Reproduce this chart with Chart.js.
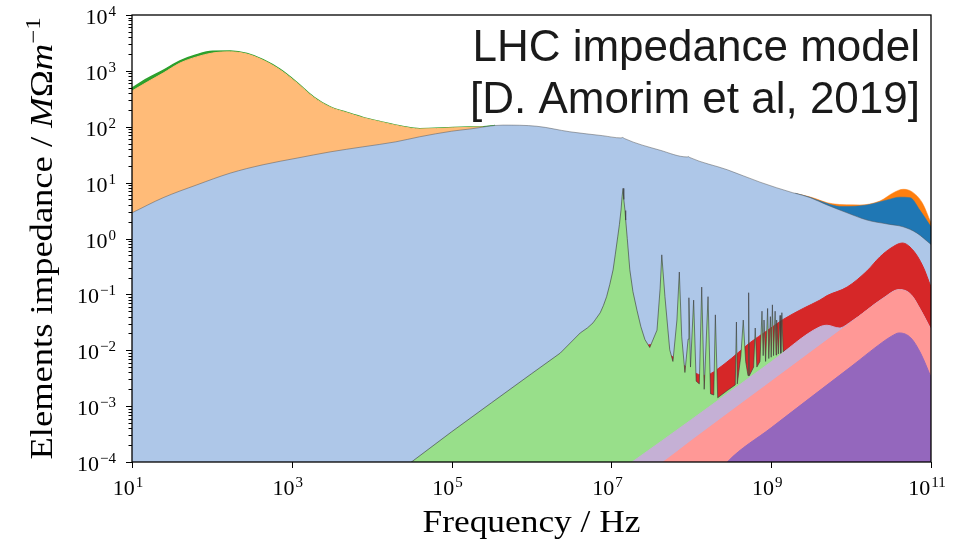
<!DOCTYPE html>
<html>
<head>
<meta charset="utf-8">
<script src="https://cdn.jsdelivr.net/npm/chart.js@4/dist/chart.umd.min.js"></script>
<style>
  html, body { margin: 0; padding: 0; background: #fff; }
  #wrap { width: 961px; height: 544px; }
</style>
</head>
<body>
<div id="wrap"><canvas id="chart" width="961" height="544"></canvas></div>
<script>
// stacked levels: [frequency in Hz, cumulative impedance in MOhm/m]
const purpleTop = [[2.5e8, 8e-5], [2.82e8, 1e-4], [1e9, 4.1e-4], [3.16e9, 1.45e-3], [1e10, 5.1e-3],
  [2.5e10, 1.41e-2], [3.2e10, 1.78e-2], [4e10, 2.04e-2], [5.6e10, 1.66e-2], [7.4e10, 8.9e-3], [1e11, 3.3e-3]];
const pinkTop = [[4e7, 9e-5], [4.47e7, 1e-4], [1e8, 2.4e-4], [1e9, 2.75e-3], [1e10, 3.16e-2],
  [2.5e10, 8.3e-2], [4e10, 0.12], [5.6e10, 0.098], [7.4e10, 0.052], [1e11, 0.023]];
const lavenderTop = [[1.6e7, 8.8e-5], [1.82e7, 1e-4], [1e8, 5.7e-4], [1e9, 6.2e-3], [4e9, 2.6e-2],
  [5e9, 2.8e-2], [7.1e9, 2.5e-2], [1e10, 3.25e-2], [2.5e10, 8.5e-2], [4e10, 0.122], [5.6e10, 0.1],
  [7.4e10, 0.053], [1e11, 0.0235]];
const resonanceTop = [[2.82e4, 8.9e-5], [1e5, 3.47e-4], [3.16e5, 1.15e-3], [1e6, 3.8e-3], [2.29e6, 8.9e-3],
  [4.07e6, 2.04e-2], [5.01e6, 2.51e-2], [5.89e6, 3.09e-2], [6.31e6, 3.55e-2], [7.24e6, 4.68e-2],
  [7.94e6, 6.3e-2], [8.71e6, 9.1e-2], [9.55e6, 0.151], [1.05e7, 0.275], [1.12e7, 0.525], [1.2e7, 1.07],
  [1.26e7, 1.78], [1.32e7, 3.24], [1.36e7, 5.6], [1.4e7, 7.9], [1.43e7, 5.0], [1.48e7, 3.16],
  [1.51e7, 2.14], [1.58e7, 1.0], [1.7e7, 0.275], [1.86e7, 0.112], [2.09e7, 5.2e-2], [2.34e7, 2.63e-2],
  [2.63e7, 1.55e-2], [3.02e7, 1.12e-2], [3.72e7, 2.29e-2], [4.07e7, 0.126], [4.27e7, 0.51],
  [4.68e7, 9.1e-2], [5.37e7, 1.02e-2], [5.89e7, 6.3e-3], [6.61e7, 3.47e-2], [7.08e7, 0.251],
  [7.59e7, 1.74e-2], [8.32e7, 4e-3], [9.12e7, 1.58e-2], [9.33e7, 8.7e-2], [9.77e7, 5e-3],
  [1.07e8, 7.9e-2], [1.15e8, 2.8e-3], [1.26e8, 2.5e-3], [1.35e8, 0.135], [1.45e8, 2e-3],
  [1.62e8, 9.1e-2], [1.74e8, 1.66e-3], [1.91e8, 1.58e-3], [2e8, 4.3e-2], [2.14e8, 1.41e-3],
  [2.82e8, 1.9e-3], [3.55e8, 2.4e-3], [3.67e8, 3.2e-2], [3.76e8, 2.5e-3], [4.17e8, 7.9e-3],
  [4.47e8, 3.47e-2], [4.79e8, 6.3e-3], [5.13e8, 3.5e-3], [5.22e8, 0.107], [5.32e8, 3.5e-3],
  [6.03e8, 5e-3], [6.31e8, 2.5e-2], [6.61e8, 5e-3], [7.24e8, 6.3e-3], [7.67e8, 5e-2], [7.94e8, 8e-3],
  [8.13e8, 3.47e-2], [8.51e8, 6.3e-3], [9.02e8, 5.6e-2], [9.33e8, 7.1e-3], [9.77e8, 4e-2],
  [1e9, 7.5e-3], [1.035e9, 6.5e-2], [1.07e9, 8e-3], [1.12e9, 5e-2], [1.15e9, 8.2e-3],
  [1.17e9, 3.47e-2], [1.23e9, 8.6e-3], [1.29e9, 4.2e-2], [1.32e9, 8.8e-3], [1.36e9, 4.7e-2],
  [1.41e9, 9.3e-3], [1.58e9, 1.05e-2]];
const redTop = [[2e7, 4e-3], [3.02e7, 1.26e-2], [4.17e7, 1e-2], [5.89e7, 7.6e-3], [8.32e7, 5.2e-3],
  [1.17e8, 3.8e-3], [1.45e8, 3.55e-3], [1.74e8, 3.8e-3], [2.09e8, 4.5e-3], [3.16e8, 7.1e-3],
  [5.37e8, 1.35e-2], [8.91e8, 2.24e-2], [1.41e9, 3.55e-2], [2.51e9, 5.6e-2], [4.07e9, 7.9e-2],
  [5.01e9, 9.5e-2], [8.91e9, 0.135], [1.58e10, 0.263], [2.29e10, 0.468], [3.16e10, 0.676],
  [4.37e10, 0.83], [5.89e10, 0.63], [7.94e10, 0.316], [1e11, 0.135]];
const lightBlueTop = [[1e1, 2.88], [24.5, 5.37], [64.6, 9.1], [170, 14.8], [437, 20.9], [1.17e3, 27.5],
  [3.02e3, 35.5], [7.76e3, 43.7], [2e4, 53.7], [3.98e4, 66.1], [1e5, 83.2], [1.7e5, 91.2],
  [4.37e5, 107], [1.17e6, 102], [3.02e6, 81.3], [7.76e6, 69.2], [1.32e7, 63.1], [1.38e7, 64.3],
  [1.45e7, 61.7], [4.07e7, 38], [8.91e7, 28.8], [9.12e7, 29.3], [9.55e7, 28.2], [2.82e8, 17],
  [7.24e8, 10.2], [1.86e9, 6.6], [2e9, 6.43], [3.09e9, 5.37], [5.01e9, 3.98], [8.91e9, 2.88],
  [1.58e10, 2.14], [2.82e10, 1.82], [4.47e10, 1.62], [6.61e10, 1.26], [1e11, 0.78]];
const blueTop = [[2e9, 6.43], [3.09e9, 5.43], [3.72e9, 4.9], [7.94e9, 3.72], [1.58e10, 3.98],
  [2.82e10, 4.9], [4.07e10, 5.5], [5.5e10, 5.37], [7.24e10, 3.24], [1e11, 1.62]];
const orangeTop = [[2e9, 6.43], [3.09e9, 5.52], [5.89e9, 4.17], [1.29e10, 3.98], [2.29e10, 4.68],
  [3.39e10, 6.6], [4.47e10, 7.6], [5.75e10, 6.9], [7.76e10, 4.37], [1e11, 1.9]];
const lightOrangeTop = [[1e1, 437], [15.5, 631], [24.5, 912], [39.8, 1380], [64.6, 1780], [102, 2090],
  [170, 2190], [275, 2000], [437, 1550], [708, 1050], [1.17e3, 603], [1.86e3, 339], [3.02e3, 224],
  [4.9e3, 178], [7.76e3, 145], [1.26e4, 123], [2.45e4, 100], [3.98e4, 91.2], [1.05e5, 95.5],
  [1.7e5, 97.7], [2.5e5, 99]];
const greenTop = [[1e1, 490], [15.5, 724], [24.5, 1020], [39.8, 1510], [64.6, 1950], [102, 2240],
  [170, 2260], [275, 2040], [437, 1580], [708, 1070], [1.17e3, 612], [1.86e3, 344], [3.02e3, 227],
  [4.9e3, 180], [7.76e3, 147], [1.26e4, 124.5], [2.45e4, 101.5], [3.98e4, 92.5], [1.05e5, 97],
  [1.7e5, 99], [2.5e5, 100.5], [3.5e5, 105]];

// tick labels (powers of ten)
const xTickExp = [1, 3, 5, 7, 9, 11];
const yTickExp = [-4, -3, -2, -1, 0, 1, 2, 3, 4];

const serif = '"Liberation Serif", "Times New Roman", serif';

function layer(points, color, extra) {
  return Object.assign({
    data: points.map(([x, y]) => ({ x, y })),
    backgroundColor: color,
    borderColor: color,
    borderWidth: 1,
    fill: 'start',
    pointRadius: 0,
    cubicInterpolationMode: 'monotone'
  }, extra);
}

// 10^n with a raised exponent
function drawPow(ctx, exp, anchorX, baseY, align) {
  const base = '10';
  const sup = exp < 0 ? '\u2212' + (-exp) : String(exp);
  ctx.font = '22px ' + serif;
  const wb = ctx.measureText(base).width;
  ctx.font = '15px ' + serif;
  const ws = ctx.measureText(sup).width;
  const total = wb + 1 + ws;
  const x0 = align === 'right' ? anchorX - total : anchorX - total / 2;
  ctx.font = '22px ' + serif;
  ctx.fillText(base, x0, baseY);
  ctx.font = '15px ' + serif;
  ctx.fillText(sup, x0 + wb + 1, baseY - 8);
}

// draw a list of [text, font, rise] pieces, fitted to a given width
function drawPieces(ctx, pieces, width) {
  let total = 0;
  pieces.forEach(p => { ctx.font = p[1]; total += ctx.measureText(p[0]).width; });
  ctx.scale(width / total, 1);
  let x = -total / 2;
  pieces.forEach(p => {
    ctx.font = p[1];
    ctx.fillText(p[0], x, -(p[2] || 0));
    x += ctx.measureText(p[0]).width;
  });
}

const axesDecor = {
  id: 'axesDecor',
  afterDraw(chart) {
    const { ctx, chartArea: a, scales: { x, y } } = chart;
    ctx.save();
    ctx.fillStyle = '#000';
    ctx.strokeStyle = '#000';
    ctx.textAlign = 'left';
    ctx.textBaseline = 'alphabetic';

    // ticks: y major + minor, x major only
    ctx.lineWidth = 1;
    ctx.beginPath();
    yTickExp.forEach(e => {
      const py = Math.round(y.getPixelForValue(Math.pow(10, e))) + 0.5;
      ctx.moveTo(a.left - 6, py); ctx.lineTo(a.left, py);
      if (e < yTickExp[yTickExp.length - 1]) {
        for (let m = 2; m <= 9; m++) {
          const pm = Math.round(y.getPixelForValue(m * Math.pow(10, e))) + 0.5;
          ctx.moveTo(a.left - 3.5, pm); ctx.lineTo(a.left, pm);
        }
      }
    });
    xTickExp.forEach(e => {
      const px = Math.round(x.getPixelForValue(Math.pow(10, e))) + 0.5;
      ctx.moveTo(px, a.bottom); ctx.lineTo(px, a.bottom + 6);
    });
    ctx.stroke();

    // frame
    ctx.lineWidth = 1.3;
    ctx.strokeRect(a.left, a.top, a.right - a.left, a.bottom - a.top);

    // tick labels
    yTickExp.forEach(e => drawPow(ctx, e, a.left - 16, y.getPixelForValue(Math.pow(10, e)) + 9, 'right'));
    xTickExp.forEach(e => drawPow(ctx, e, x.getPixelForValue(Math.pow(10, e)) - 4, a.bottom + 33, 'center'));

    // axis titles
    ctx.save();
    ctx.translate((a.left + a.right) / 2, 532);
    drawPieces(ctx, [['Frequency / Hz', '31px ' + serif]], 218);
    ctx.restore();

    ctx.save();
    ctx.translate(52, (a.top + a.bottom) / 2);
    ctx.rotate(-Math.PI / 2);
    drawPieces(ctx, [
      ['Elements impedance / ', '31px ' + serif],
      ['M', 'italic 31px ' + serif],
      ['\u03A9', '31px ' + serif],
      ['m', 'italic 31px ' + serif],
      ['\u22121', '21px ' + serif, 12]
    ], 442);
    ctx.restore();

    // annotation
    ctx.fillStyle = '#1a1a1a';
    ctx.textAlign = 'right';
    ctx.font = '44px "Liberation Sans", Arial, sans-serif';
    ctx.fillText('LHC impedance model', 920, 61);
    ctx.fillText('[D. Amorim et al, 2019]', 920, 113);
    ctx.restore();
  }
};

new Chart(document.getElementById('chart').getContext('2d'), {
  type: 'line',
  data: {
    datasets: [
      layer(purpleTop, '#9467bd'),
      layer(pinkTop, '#ff9896'),
      layer(lavenderTop, '#c5b0d5'),
      layer(resonanceTop, '#98df8a', { borderColor: 'rgba(55,55,55,0.6)', cubicInterpolationMode: 'default', tension: 0 }),
      layer(redTop, '#d62728'),
      layer(lightBlueTop, '#aec7e8', { borderColor: 'rgba(80,80,80,0.6)', borderWidth: 0.8 }),
      layer(blueTop, '#1f77b4', { borderWidth: 0.5 }),
      layer(orangeTop, '#ff7f0e', { borderWidth: 0.5 }),
      layer(lightOrangeTop, '#ffbb78'),
      layer(greenTop, '#2ca02c', { borderWidth: 1.5 })
    ]
  },
  options: {
    responsive: false,
    animation: false,
    devicePixelRatio: 1,
    layout: { padding: { left: 132, right: 30, top: 15, bottom: 82 } },
    scales: {
      x: { type: 'logarithmic', min: 10, max: 1e11, display: false },
      y: { type: 'logarithmic', min: 1e-4, max: 1e4, display: false }
    },
    plugins: { legend: { display: false }, tooltip: { enabled: false } }
  },
  plugins: [axesDecor]
});
</script>
</body>
</html>
